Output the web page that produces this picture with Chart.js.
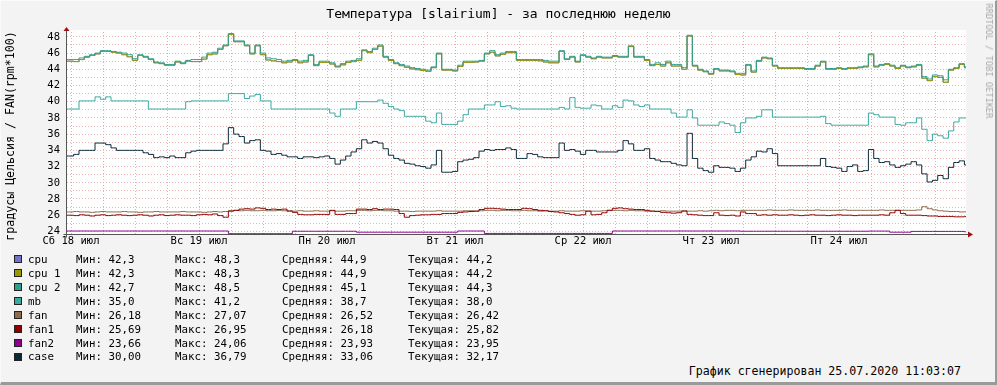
<!DOCTYPE html>
<html>
<head>
<meta charset="utf-8">
<title>Температура [slairium]</title>
<script src="https://cdn.jsdelivr.net/npm/chart.js@4.4.0/dist/chart.umd.min.js"></script>
<style>
  body { margin: 0; background: #f3f3f3; }
  #graph { position: relative; width: 997px; height: 385px; overflow: hidden; font-family: "DejaVu Sans Mono", monospace; color: #000; }
  #graph canvas { position: absolute; left: 0; top: 0; }
  #frame { position: absolute; left: 0; top: 0; width: 997px; height: 385px; box-sizing: border-box; border-style: solid; border-width: 1px 2px 3px 1px; border-color: #fafafa #9a9a9a #9a9a9a #fafafa; pointer-events: none; }
  .title { position: absolute; left: 0; width: 997px; top: 6px; text-align: center; font-size: 13px; line-height: 15px; }
  .ylabel { position: absolute; left: 10px; top: 136px; width: 260px; text-align: center; font-size: 11.6px; line-height: 14px; transform: translate(-50%, -50%) rotate(-90deg); white-space: nowrap; }
  .mark { position: absolute; left: 989px; top: 61px; font-size: 8.7px; line-height: 10px; color: #a8a8a8; transform: translate(-50%, -50%) rotate(90deg); white-space: nowrap; }
  .row { position: absolute; left: 0; width: 600px; height: 13px; font-size: 10.8px; line-height: 13px; white-space: pre; }
  .row span { position: absolute; top: 0; }
  .sw { position: absolute; left: 14px; top: 2.5px; width: 6px; height: 6px; border: 1px solid #222; }
  .foot { position: absolute; right: 36px; top: 364px; font-size: 11.6px; line-height: 14px; white-space: nowrap; }
</style>
</head>
<body>
<div id="graph">
  <canvas id="myChart" width="997" height="250"></canvas>
  <div class="title">Температура [slairium] - за последнюю неделю</div>
  <div class="ylabel">градусы Цельсия / FAN(rpm*100)</div>
  <div class="mark">RRDTOOL / TOBI OETIKER</div>
  <div id="legend"></div>
  <div class="foot">График сгенерирован 25.07.2020 11:03:07</div>
  <div id="frame"></div>
</div>
<script>
// час от 18 июл 00:00, первая точка
const hourStart = -1

const dayTicks = [0, 24, 48, 72, 96, 120, 144]
const dayLabels = ['Сб 18 июл', 'Вс 19 июл', 'Пн 20 июл', 'Вт 21 июл', 'Ср 22 июл', 'Чт 23 июл', 'Пт 24 июл']
const yLabels = [24, 26, 28, 30, 32, 34, 36, 38, 40, 42, 44, 46, 48]

// cpu и cpu 1 совпадают (одинаковые мин/макс/средняя)
const cpu1 = [45.0,
  45.0, 44.95, 45.2, 45.5, 45.7, 45.9, 46.2, 46.2, 46.1, 46.0,
  45.8, 45.55, 45.1, 45.7, 45.5, 45.2, 44.8, 44.7, 44.5, 44.5,
  44.9, 44.7, 45.0, 44.95, 44.95, 45.25, 45.8, 45.9, 46.45, 46.9,
  48.3, 47.4, 47.4, 46.9, 45.9, 46.9, 45.8, 45.15, 45.05, 44.95,
  44.8, 44.9, 45.1, 44.8, 44.9, 45.7, 44.45, 44.85, 44.85, 44.65,
  44.3, 44.55, 44.85, 44.95, 45.1, 46.3, 46.05, 46.45, 46.85, 45.5,
  45.1, 44.7, 44.45, 44.25, 44.05, 43.95, 43.85, 43.75, 44.2, 45.9,
  43.9, 43.9, 43.8, 44.35, 44.85, 44.85, 44.9, 45.0, 45.9, 46.1,
  45.65, 45.85, 46.05, 46.05, 45.1, 45.1, 45.1, 45.1, 45.05, 44.9,
  44.8, 44.8, 46.2, 45.2, 45.5, 44.9, 45.7, 45.5, 45.3, 45.5,
  45.4, 45.4, 45.6, 45.5, 45.5, 46.8, 45.5, 45.5, 45.1, 44.45,
  44.6, 44.4, 44.8, 44.4, 44.4, 44.0, 48.1, 44.4, 43.9, 43.7,
  43.4, 44.0, 43.8, 43.8, 43.7, 43.35, 43.3, 44.5, 43.65, 45.0,
  45.4, 45.3, 44.4, 44.1, 44.1, 44.1, 44.1, 44.1, 44.0, 44.0,
  44.4, 44.9, 44.0, 44.0, 44.1, 44.0, 44.1, 44.1, 44.2, 44.3,
  45.8, 44.3, 44.5, 44.6, 44.4, 44.1, 44.4, 44.2, 44.3, 44.5,
  42.9, 42.6, 43.1, 43.0, 42.4, 43.9, 44.1, 44.6, 44.2]

const cpu2 = [45.2,
  45.2, 45.2, 45.4, 45.6, 45.8, 46.0, 46.3, 46.3, 46.2, 46.1,
  46.0, 45.8, 45.3, 45.8, 45.6, 45.3, 44.9, 44.8, 44.6, 44.6,
  45.0, 44.8, 45.1, 45.2, 45.2, 45.5, 46.0, 46.1, 46.6, 47.0,
  48.4, 47.5, 47.5, 47.0, 46.0, 47.0, 46.0, 45.4, 45.3, 45.2,
  45.0, 45.1, 45.2, 45.0, 45.1, 45.8, 44.6, 45.0, 45.0, 44.8,
  44.4, 44.7, 45.0, 45.1, 45.3, 46.4, 46.2, 46.6, 47.0, 45.6,
  45.2, 44.8, 44.6, 44.4, 44.2, 44.1, 44.0, 43.9, 44.3, 46.0,
  44.0, 44.0, 43.9, 44.5, 45.0, 45.0, 45.0, 45.1, 46.0, 46.3,
  45.8, 46.0, 46.2, 46.2, 45.2, 45.2, 45.2, 45.2, 45.2, 45.1,
  45.0, 45.0, 46.3, 45.3, 45.6, 45.0, 45.8, 45.6, 45.4, 45.6,
  45.5, 45.5, 45.7, 45.6, 45.6, 46.9, 45.6, 45.6, 45.2, 44.6,
  44.8, 44.6, 45.0, 44.6, 44.6, 44.2, 48.2, 44.5, 44.0, 43.8,
  43.5, 44.1, 43.9, 43.9, 43.8, 43.5, 43.5, 44.6, 43.8, 45.1,
  45.5, 45.4, 44.5, 44.2, 44.2, 44.2, 44.2, 44.2, 44.1, 44.1,
  44.5, 45.0, 44.1, 44.1, 44.2, 44.1, 44.2, 44.2, 44.3, 44.4,
  45.9, 44.4, 44.6, 44.7, 44.5, 44.2, 44.5, 44.3, 44.4, 44.6,
  43.1, 42.8, 43.3, 43.2, 42.7, 44.0, 44.2, 44.7, 44.3]

const mb = [39.1,
  39.1, 39.1, 40.1, 40.1, 40.1, 40.6, 40.3, 40.6, 40.1, 40.1,
  40.1, 40.1, 40.1, 40.1, 40.1, 39.1, 39.1, 39.1, 39.1, 39.1,
  39.1, 39.1, 40.0, 40.1, 40.1, 40.1, 40.1, 40.1, 40.1, 40.1,
  41.0, 41.0, 41.0, 40.4, 40.7, 40.9, 40.1, 40.1, 39.1, 39.1,
  39.1, 39.1, 39.1, 39.1, 39.1, 39.1, 39.1, 39.1, 39.1, 38.6,
  38.2, 39.1, 39.1, 39.1, 40.0, 40.0, 40.0, 40.0, 40.2, 39.8,
  39.4, 39.1, 38.9, 38.2, 38.2, 38.2, 38.2, 37.6, 37.4, 38.6,
  37.2, 37.2, 37.2, 37.6, 38.4, 39.1, 39.1, 39.1, 39.6, 39.6,
  40.0, 39.4, 39.5, 39.2, 39.1, 39.1, 39.1, 39.1, 39.1, 39.1,
  39.1, 39.1, 39.3, 39.1, 40.5, 39.3, 39.2, 39.2, 39.6, 39.5,
  39.1, 39.1, 39.5, 39.3, 40.2, 40.1, 39.6, 39.4, 39.6, 39.1,
  39.1, 39.1, 39.1, 38.6, 38.1, 38.1, 39.0, 38.0, 37.1, 37.1,
  37.1, 37.1, 37.5, 37.3, 37.1, 36.2, 37.4, 38.0, 38.0, 38.2,
  39.0, 39.0, 38.1, 38.1, 38.1, 38.1, 38.1, 38.1, 38.1, 38.1,
  38.1, 38.2, 37.3, 37.1, 37.1, 37.1, 37.1, 37.1, 37.1, 37.1,
  38.6, 38.4, 38.1, 38.1, 38.1, 37.2, 37.1, 37.4, 37.4, 38.0,
  36.6, 35.2, 36.0, 35.8, 35.5, 36.4, 37.5, 38.0, 38.0]

const fan = [26.4,
  26.4, 26.45, 26.4, 26.4, 26.35, 26.4, 26.45, 26.4, 26.4, 26.4,
  26.45, 26.4, 26.4, 26.35, 26.4, 26.4, 26.45, 26.4, 26.4, 26.4,
  26.4, 26.45, 26.4, 26.4, 26.4, 26.35, 26.4, 26.45, 26.4, 26.45,
  26.55, 26.6, 26.55, 26.6, 26.55, 26.55, 26.6, 26.55, 26.55, 26.6,
  26.55, 26.55, 26.5, 26.55, 26.5, 26.5, 26.55, 26.5, 26.5, 26.55,
  26.5, 26.5, 26.55, 26.55, 26.6, 26.6, 26.55, 26.6, 26.6, 26.55,
  26.55, 26.5, 26.5, 26.5, 26.45, 26.5, 26.5, 26.5, 26.5, 26.55,
  26.5, 26.5, 26.5, 26.5, 26.55, 26.55, 26.5, 26.55, 26.6, 26.6,
  26.55, 26.6, 26.6, 26.55, 26.55, 26.6, 26.55, 26.55, 26.5, 26.55,
  26.5, 26.5, 26.55, 26.5, 26.5, 26.5, 26.55, 26.5, 26.5, 26.5,
  26.55, 26.6, 26.6, 26.6, 26.55, 26.6, 26.55, 26.55, 26.5, 26.5,
  26.5, 26.55, 26.5, 26.5, 26.5, 26.55, 26.5, 26.5, 26.55, 26.5,
  26.55, 26.6, 26.55, 26.6, 26.6, 26.55, 26.6, 26.6, 26.6, 26.6,
  26.6, 26.65, 26.6, 26.6, 26.6, 26.65, 26.6, 26.6, 26.6, 26.6,
  26.65, 26.6, 26.6, 26.6, 26.6, 26.65, 26.6, 26.6, 26.6, 26.6,
  26.6, 26.6, 26.65, 26.6, 26.6, 26.6, 26.6, 26.6, 26.6, 26.65,
  27.05, 26.8, 26.65, 26.55, 26.5, 26.45, 26.45, 26.4, 26.42]

const fan1 = [26.0,
  26.0, 25.95, 26.05, 26.0, 25.9, 26.0, 26.05, 25.95, 26.0, 26.05,
  26.0, 25.95, 26.0, 26.05, 26.0, 25.9, 26.0, 26.05, 25.95, 26.0,
  26.05, 26.0, 26.0, 25.95, 26.05, 26.1, 26.05, 26.15, 25.95, 25.75,
  26.5, 26.6, 26.75, 26.8, 26.75, 26.9, 26.85, 26.7, 26.75, 26.7,
  26.75, 26.5, 26.35, 26.1, 26.05, 26.05, 26.1, 26.1, 26.1, 26.6,
  26.1, 26.1, 26.2, 26.2, 26.75, 26.75, 26.7, 26.8, 26.7, 26.75,
  26.75, 26.7, 26.2, 25.75, 25.95, 26.0, 26.05, 26.05, 26.1, 26.1,
  26.2, 26.2, 26.2, 26.35, 26.4, 26.45, 26.5, 26.7, 26.85, 26.85,
  26.8, 26.75, 26.7, 26.7, 26.7, 26.85, 26.8, 26.7, 26.6, 26.55,
  26.45, 26.4, 26.3, 26.2, 26.1, 26.0, 26.05, 26.5, 26.05, 26.1,
  26.3, 26.6, 26.85, 26.9, 26.8, 26.75, 26.7, 26.7, 26.6, 26.5,
  26.45, 26.35, 26.3, 26.25, 26.3, 26.5, 26.1, 26.05, 26.0, 25.95,
  25.95, 26.3, 26.0, 25.95, 26.0, 25.9, 26.4, 26.2, 26.2, 26.0,
  26.05, 26.0, 26.05, 26.0, 26.0, 26.05, 26.0, 25.95, 26.0, 26.05,
  26.0, 26.0, 25.95, 26.0, 26.05, 26.0, 26.0, 25.95, 26.0, 26.0,
  26.0, 26.0, 26.05, 26.0, 26.3, 26.6, 26.2, 26.0, 26.0, 26.0,
  25.95, 25.9, 25.9, 25.85, 25.85, 25.85, 25.8, 25.8, 25.82]

const fan2 = [24.05,
  24.05, 24.05, 24.05, 24.05, 24.05, 24.05, 24.05, 24.05, 24.05, 24.05,
  24.05, 24.05, 24.05, 24.05, 24.05, 24.05, 24.05, 24.05, 24.05, 24.05,
  24.05, 24.05, 24.05, 24.05, 24.05, 24.05, 24.05, 24.05, 24.05, 24.05,
  23.72, 23.72, 23.72, 23.72, 23.72, 23.72, 23.72, 23.72, 23.72, 23.72,
  23.72, 23.72, 24.02, 24.02, 24.02, 24.02, 24.02, 24.02, 24.02, 24.02,
  24.02, 24.02, 24.02, 24.02, 23.9, 23.9, 23.9, 23.9, 23.9, 23.9,
  23.9, 23.9, 23.9, 23.9, 23.9, 23.9, 23.9, 23.9, 23.9, 23.9,
  23.9, 23.9, 23.9, 24.05, 24.05, 24.05, 24.05, 24.05, 23.75, 23.75,
  23.75, 23.75, 23.75, 23.75, 23.75, 23.75, 23.75, 23.75, 23.75, 23.75,
  23.75, 23.75, 23.75, 23.75, 23.75, 23.75, 23.75, 23.75, 23.75, 23.75,
  23.75, 23.75, 24.05, 24.05, 24.05, 24.05, 24.05, 24.05, 24.05, 24.05,
  24.05, 24.05, 24.05, 24.05, 24.05, 24.05, 24.05, 24.05, 24.05, 24.05,
  24.05, 24.05, 24.05, 24.05, 24.05, 24.05, 24.02, 24.02, 24.02, 24.02,
  24.02, 24.02, 24.02, 24.02, 24.02, 24.02, 24.02, 24.02, 24.02, 24.02,
  24.02, 24.02, 24.02, 24.02, 24.02, 24.02, 24.02, 24.02, 24.02, 24.02,
  24.04, 24.04, 24.04, 24.04, 23.9, 23.9, 23.9, 23.9, 24.0, 24.0,
  24.0, 24.0, 24.0, 24.0, 24.0, 24.0, 24.0, 24.0, 23.95]

const caseT = [33.3,
  33.3, 33.5, 34.0, 34.0, 34.0, 34.9, 34.9, 34.7, 34.3, 34.0,
  34.0, 34.0, 34.0, 34.0, 33.7, 33.5, 33.1, 33.2, 33.1, 33.3,
  33.1, 33.1, 33.7, 33.9, 34.0, 34.0, 34.0, 34.0, 34.0, 34.8,
  36.8, 36.0, 35.7, 34.9, 35.2, 35.3, 34.0, 33.9, 33.5, 33.6,
  33.4, 33.2, 33.2, 33.0, 33.2, 33.2, 33.1, 33.2, 33.3, 33.0,
  32.3, 32.8, 33.3, 33.8, 34.2, 35.3, 34.9, 35.1, 34.9, 34.2,
  33.4, 33.0, 32.8, 32.4, 32.3, 32.1, 32.0, 31.8, 32.2, 34.0,
  31.3, 31.3, 31.4, 32.6, 32.8, 32.9, 33.1, 33.9, 34.1, 34.0,
  34.1, 34.1, 34.3, 34.1, 33.0, 33.0, 33.6, 33.5, 33.2, 33.1,
  33.1, 33.1, 34.9, 34.0, 34.1, 33.9, 33.5, 34.0, 34.0, 33.8,
  33.8, 33.8, 33.8, 34.0, 35.2, 34.8, 34.0, 34.0, 34.2, 33.0,
  32.8, 32.6, 32.6, 32.4, 32.2, 32.1, 36.1, 33.0, 31.8, 31.5,
  31.3, 32.1, 31.9, 31.9, 31.8, 31.4, 31.8, 32.8, 33.2, 33.9,
  33.8, 34.2, 33.6, 32.1, 32.1, 32.1, 32.1, 32.1, 32.1, 32.1,
  32.1, 33.0, 32.0, 31.9, 31.8, 31.4, 32.0, 32.2, 31.4, 31.5,
  34.1, 33.0, 32.5, 32.6, 32.2, 31.9, 32.1, 32.3, 32.6, 32.2,
  31.1, 30.1, 30.3, 30.9, 30.5, 31.9, 32.5, 32.7, 32.2]

const seriesNames = ['cpu', 'cpu 1', 'cpu 2', 'mb', 'fan', 'fan1', 'fan2', 'case']
const seriesColors = ['#7474c4', '#9a9a00', '#2f9f8c', '#3ca8a2', '#8c6c4c', '#900000', '#900090', '#0a2a38']
const seriesData = [cpu1, cpu1, cpu2, mb, fan, fan1, fan2, caseT]

const statMin = ['42,3', '42,3', '42,7', '35,0', '26,18', '25,69', '23,66', '30,00']
const statMax = ['48,3', '48,3', '48,5', '41,2', '27,07', '26,95', '24,06', '36,79']
const statAvg = ['44,9', '44,9', '45,1', '38,7', '26,52', '26,18', '23,93', '33,06']
const statCur = ['44,2', '44,2', '44,3', '38,0', '26,42', '25,82', '23,95', '32,17']

// легенда
const legend = document.getElementById('legend')
seriesNames.forEach((name, i) => {
    const row = document.createElement('div')
    row.className = 'row'
    row.style.top = (252.8 + i * 13.95) + 'px'
    row.innerHTML =
        `<div class="sw" style="background:${seriesColors[i]}"></div>` +
        `<span style="left:28px">${name}</span>` +
        `<span style="left:76px">Мин: ${statMin[i]}</span>` +
        `<span style="left:175px">Макс: ${statMax[i]}</span>` +
        `<span style="left:282px">Средняя: ${statAvg[i]}</span>` +
        `<span style="left:408px">Текущая: ${statCur[i]}</span>`
    legend.appendChild(row)
})

const toPoints = (vals) => vals.map((v, i) => ({ x: hourStart + i, y: v }))

// фон графика + оси со стрелками как в rrdtool
const rrdFrame = {
    id: 'rrdFrame',
    beforeDraw(chart) {
        const { ctx, chartArea: a } = chart
        ctx.save()
        ctx.fillStyle = '#ffffff'
        ctx.fillRect(a.left, a.top - 2, a.right - a.left, a.bottom - a.top + 2)
        ctx.restore()
    },
    afterDraw(chart) {
        const { ctx, chartArea: a } = chart
        const x0 = a.left - 0.5
        const y0 = a.bottom + 0.5
        ctx.save()
        ctx.strokeStyle = '#555555'
        ctx.lineWidth = 1
        ctx.beginPath()
        ctx.moveTo(x0, y0 + 3)
        ctx.lineTo(x0, a.top - 2)
        ctx.moveTo(x0 - 3, y0)
        ctx.lineTo(a.right + 4, y0)
        ctx.stroke()
        ctx.fillStyle = '#a01010'
        ctx.beginPath()
        ctx.moveTo(x0 - 3, a.top - 1)
        ctx.lineTo(x0 + 3, a.top - 1)
        ctx.lineTo(x0, a.top - 5)
        ctx.closePath()
        ctx.fill()
        ctx.beginPath()
        ctx.moveTo(a.right + 2, y0 - 3)
        ctx.lineTo(a.right + 2, y0 + 3)
        ctx.lineTo(a.right + 7, y0)
        ctx.closePath()
        ctx.fill()
        ctx.restore()
    }
}

const ctx = document.getElementById('myChart')

const myChart = new Chart(ctx, {
    type: 'line',
    data: {
        datasets: seriesData.map((vals, i) => ({
            label: seriesNames[i],
            data: toPoints(vals),
            borderColor: seriesColors[i],
            borderWidth: 1,
            pointRadius: 0,
            stepped: 'middle',
            fill: false,
            order: seriesData.length - 1 - i
        }))
    },
    options: {
        responsive: false,
        animation: false,
        devicePixelRatio: 1,
        events: [],
        layout: { padding: { left: 0, right: 31, top: 32, bottom: 0 } },
        plugins: {
            legend: { display: false },
            tooltip: { enabled: false }
        },
        scales: {
            x: {
                type: 'linear',
                min: -0.75,
                max: 167.8,
                afterFit: (scale) => { scale.height = 16 },
                afterBuildTicks: (scale) => {
                    const t = []
                    for (let h = 0; h < 167; h += 6) t.push({ value: h })
                    scale.ticks = t
                },
                border: { display: false, dash: [1, 2] },
                grid: {
                    drawTicks: false,
                    color: (c) => (c.tick && c.tick.value % 24 === 0) ? 'rgba(225,140,140,0.75)' : 'rgba(175,175,175,0.8)'
                },
                ticks: {
                    autoSkip: false,
                    maxRotation: 0,
                    padding: 1,
                    color: '#000',
                    font: { family: 'DejaVu Sans Mono', size: 10.5 },
                    callback: (v) => {
                        const k = dayTicks.indexOf(v)
                        return k >= 0 ? dayLabels[k] : ''
                    }
                }
            },
            y: {
                min: 23.68,
                max: 48.6,
                afterFit: (scale) => { scale.width = 67 },
                afterBuildTicks: (scale) => {
                    const t = []
                    for (let v = 24; v <= 48; v++) t.push({ value: v })
                    scale.ticks = t
                },
                border: { display: false, dash: [1, 2] },
                grid: {
                    drawTicks: false,
                    color: 'rgba(225,150,150,0.7)'
                },
                ticks: {
                    autoSkip: false,
                    padding: 7,
                    color: '#000',
                    font: { family: 'DejaVu Sans Mono', size: 10.5 },
                    callback: (v) => yLabels.includes(v) ? String(v) : ''
                }
            }
        }
    },
    plugins: [rrdFrame]
})
</script>
</body>
</html>
